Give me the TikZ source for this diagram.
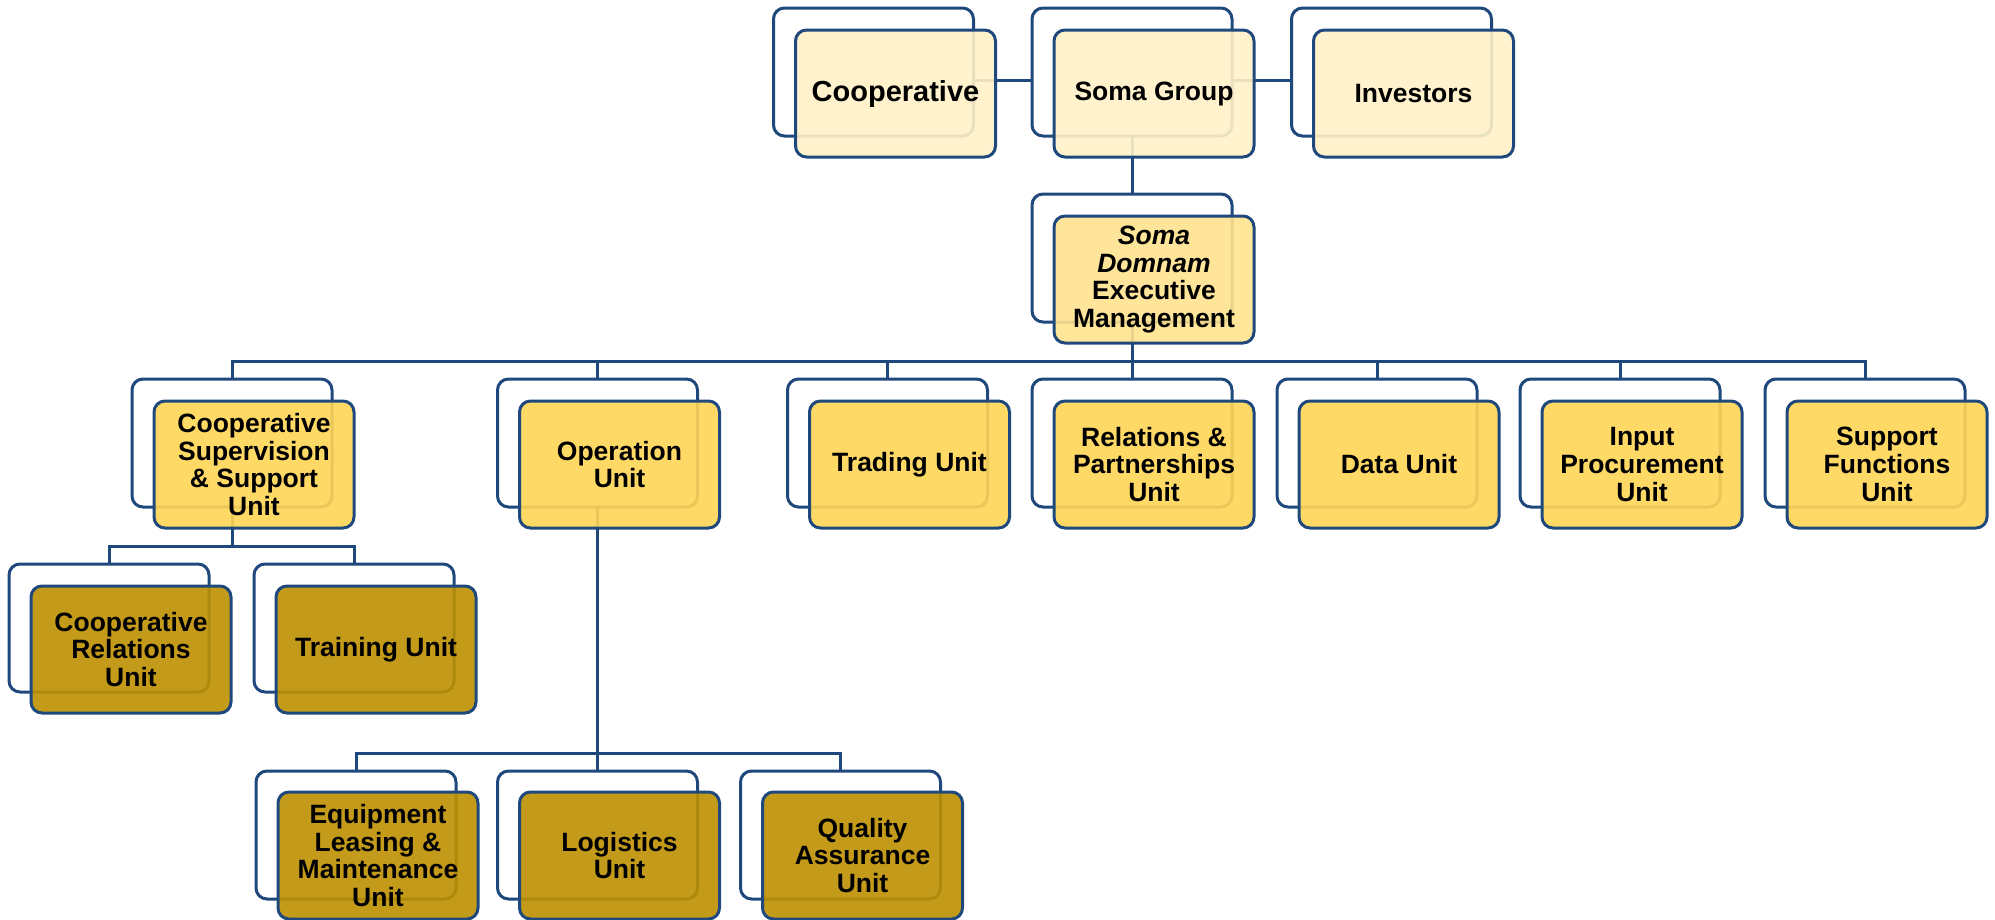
\documentclass[tikz,border=0pt]{standalone}
\usepackage{fontspec}
\setmainfont{Liberation Sans}
\definecolor{bord}{HTML}{1F497D}
\definecolor{topfill}{HTML}{FFF1C7}
\definecolor{execfill}{HTML}{FFE38E}
\definecolor{midfill}{HTML}{FFD555}
\definecolor{lowfill}{HTML}{BD9000}
\begin{document}
\begin{tikzpicture}[x=1bp,y=-1bp,
  backbox/.style={draw=bord, line width=3bp, fill=white, rounded corners=11bp,
    minimum width=200bp, minimum height=128bp, inner sep=0pt, outer sep=0pt, anchor=north west},
  frontbox/.style={backbox, minimum height=127bp, fill opacity=0.9, text opacity=1,
    align=center, text=black, font=\bfseries\fontsize{26.5bp}{27.7bp}\selectfont},
  lvA/.style={frontbox, fill=topfill},
  lvE/.style={frontbox, fill=execfill},
  lvB/.style={frontbox, fill=midfill},
  lvC/.style={frontbox, fill=lowfill},
  conn/.style={draw=bord, line width=3bp}]
\useasboundingbox (0,0) rectangle (1995,920);

% ---------- back boxes ----------
\node[backbox] (coopB) at (773.5,8) {};
\node[backbox] (somaB) at (1032,8) {};
\node[backbox] (invB) at (1291.5,8) {};
\node[backbox] (execB) at (1032,194) {};
\node[backbox] (cssuB) at (132,379) {};
\node[backbox] (opB) at (497.5,379) {};
\node[backbox] (trB) at (787.5,379) {};
\node[backbox] (relB) at (1032,379) {};
\node[backbox] (dataB) at (1277,379) {};
\node[backbox] (inB) at (1520,379) {};
\node[backbox] (supB) at (1765,379) {};
\node[backbox] (crB) at (9,564) {};
\node[backbox] (trnB) at (254,564) {};
\node[backbox] (eqB) at (256,771) {};
\node[backbox] (logB) at (497.5,771) {};
\node[backbox] (qaB) at (740.5,771) {};

% ---------- connectors ----------
\coordinate (bus) at (0,361);
\coordinate (subA) at (0,546);
\coordinate (subB) at (0,753);
\draw[conn] ([yshift=-8bp]coopB.east) -- ([yshift=-8bp]somaB.west);
\draw[conn] ([yshift=-8bp]somaB.east) -- ([yshift=-8bp]invB.west);
\draw[conn] (somaB.south) -- (execB.north);
\draw[conn] (execB.south) -- (execB.south |- bus);
\draw[conn] (cssuB.north) |- (supB.north |- bus) -- (supB.north);
\draw[conn] (opB.north) -- (opB.north |- bus);
\draw[conn] (trB.north) -- (trB.north |- bus);
\draw[conn] (relB.north) -- (relB.north |- bus);
\draw[conn] (dataB.north) -- (dataB.north |- bus);
\draw[conn] (inB.north) -- (inB.north |- bus);
\draw[conn] (cssuB.south) -- (cssuB.south |- subA);
\draw[conn] (crB.north) |- (trnB.north |- subA) -- (trnB.north);
\draw[conn] (opB.south) -- (opB.south |- subB);
\draw[conn] (eqB.north) |- (qaB.north |- subB) -- (qaB.north);
\draw[conn] (logB.north) -- (logB.north |- subB);

% ---------- front boxes ----------
\node[lvA, font=\bfseries\fontsize{29bp}{30bp}\selectfont] (coopF) at (795.5,30) {Cooperative};
\node[lvA] (somaF) at (1054,30) {Soma Group};
\node[lvA] (invF) at (1313.5,30) {Investors};
\node[lvE] (execF) at (1054,216) {\textit{Soma}\\\textit{Domnam}\\Executive\\Management};
\node[lvB] (cssuF) at (154,401) {Cooperative\\Supervision\\\& Support\\Unit};
\node[lvB] (opF) at (519.5,401) {Operation\\Unit};
\node[lvB] (trF) at (809.5,401) {Trading Unit};
\node[lvB] (relF) at (1054,401) {Relations \&\\Partnerships\\Unit};
\node[lvB] (dataF) at (1299,401) {Data Unit};
\node[lvB] (inF) at (1542,401) {Input\\Procurement\\Unit};
\node[lvB] (supF) at (1787,401) {Support\\Functions\\Unit};
\node[lvC] (crF) at (31,586) {Cooperative\\Relations\\Unit};
\node[lvC] (trnF) at (276,586) {Training Unit};
\node[lvC] (eqF) at (278,792) {Equipment\\Leasing \&\\Maintenance\\Unit};
\node[lvC] (logF) at (519.5,792) {Logistics\\Unit};
\node[lvC] (qaF) at (762.5,792) {Quality\\Assurance\\Unit};
\end{tikzpicture}
\end{document}
